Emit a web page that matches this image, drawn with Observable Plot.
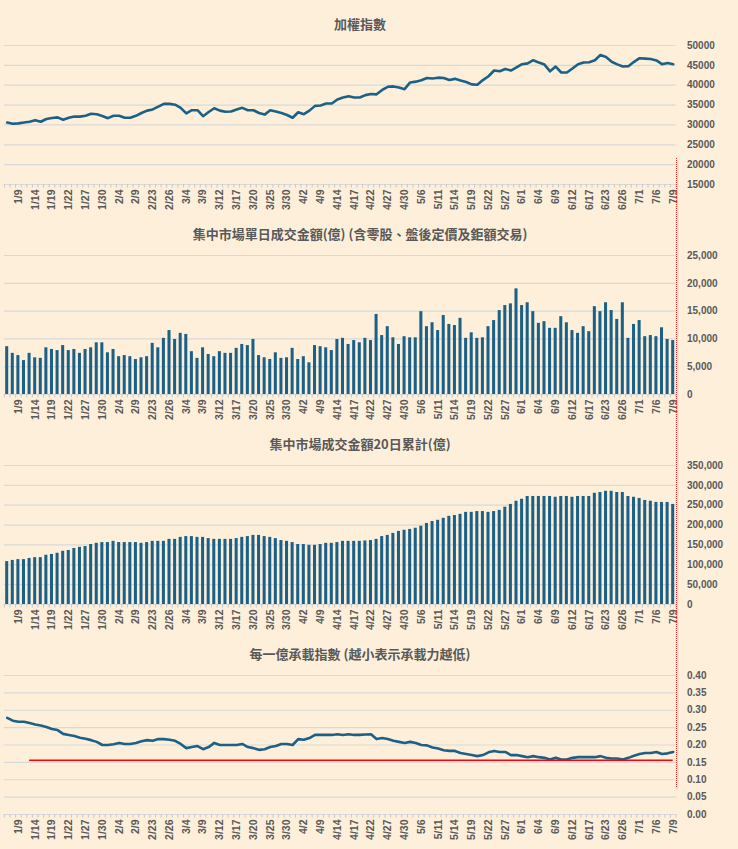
<!DOCTYPE html>
<html><head><meta charset="utf-8">
<script src="https://cdn.jsdelivr.net/npm/d3@7"></script>
<script src="https://cdn.jsdelivr.net/npm/@observablehq/plot@0.6"></script>
<style>
html,body{margin:0;padding:0;background:#fdefd9;}
#wrap{position:relative;width:738px;height:849px;background:#fdefd9;overflow:hidden}
.panel{position:absolute;left:0}
.title{position:absolute;left:0;width:720px;text-align:center;font:bold 13px "Noto Sans CJK TC","Noto Sans CJK SC",sans-serif;color:#595959;line-height:16px;white-space:nowrap}
#vline{position:absolute;left:676px;top:158px;height:629px;border-left:1.5px dotted #ff2a2a}
</style>
</head><body><div id="wrap"></div>
<script>
const dates = ["1/7","1/8","1/9","1/12","1/13","1/14","1/15","1/16","1/19","1/20",
"1/21","1/22","1/23","1/26","1/27","1/28","1/29","1/30","2/2","2/3",
"2/4","2/5","2/6","2/9","2/10","2/11","2/23","2/24","2/25","2/26",
"3/2","3/3","3/4","3/5","3/6","3/9","3/10","3/11","3/12","3/13",
"3/16","3/17","3/18","3/19","3/20","3/23","3/24","3/25","3/26","3/27",
"3/30","3/31","4/1","4/2","4/7","4/8","4/9","4/10","4/13","4/14",
"4/15","4/16","4/17","4/20","4/21","4/22","4/23","4/24","4/27","4/28",
"4/29","4/30","5/4","5/5","5/6","5/7","5/8","5/11","5/12","5/13",
"5/14","5/15","5/18","5/19","5/20","5/21","5/22","5/25","5/26","5/27",
"5/28","5/29","6/1","6/2","6/3","6/4","6/5","6/8","6/9","6/10",
"6/11","6/12","6/15","6/16","6/17","6/18","6/22","6/23","6/24","6/25",
"6/26","6/29","6/30","7/1","7/2","7/3","7/6","7/7","7/8","7/9"];

const taiex = [30600,30300,30400,30600,30800,31200,30800,31500,31750,31900,
31300,31800,32100,32100,32300,32800,32700,32250,31700,32300,
32300,31800,31800,32300,33000,33600,33900,34600,35300,35300,
35100,34300,32900,33700,33700,32200,33250,34200,33600,33300,
33400,33900,34300,33700,33700,33000,32600,33700,33400,33000,
32500,31800,33200,32700,33600,34800,34900,35400,35400,36400,
36900,37200,36900,36900,37500,37800,37700,38800,39600,39700,
39400,39000,40700,40900,41250,41800,41700,41900,41800,41300,
41600,41200,40800,40200,40100,41300,42250,43700,43500,44100,
43700,44500,45300,45500,46300,45700,45200,43500,44700,43200,
43200,44200,45300,45700,45800,46300,47600,47100,45900,45250,
44700,44800,45900,46800,46700,46600,46250,45300,45600,45300];

const volume = [8600,7400,7000,6100,7400,6600,6500,8400,8100,7900,
8800,7900,8100,7400,8100,8400,9300,9300,7500,8100,
6800,7000,6800,6300,6600,6800,9200,8400,10100,11500,
9900,11000,10800,7700,6500,8400,7200,6800,7700,7400,
7400,8300,9000,8800,9900,7000,6600,6300,7500,6500,
6600,8300,6300,6800,5700,8800,8600,8400,7900,9900,
10100,9000,9700,9300,10100,9700,14400,10600,12200,10200,
9000,10400,10200,10200,14900,12200,12900,11500,14200,12600,
12400,13700,10100,11100,10100,10200,12200,13300,15100,16000,
16300,19000,16000,16500,14900,12800,13100,11900,11900,14000,
12900,11500,11000,12200,11300,15800,14900,16500,15100,13500,
16500,10100,12600,13300,10400,10600,10400,12000,9900,9700];

const volume20 = [108000,111000,113000,113000,116000,118000,118000,124000,126000,129000,
134000,136000,141000,144000,146000,151000,154000,156000,156000,159000,
156000,156000,156000,156000,154000,156000,159000,159000,159000,164000,
164000,169000,171000,171000,169000,169000,166000,164000,164000,164000,
164000,166000,169000,171000,174000,174000,171000,169000,166000,161000,
159000,156000,151000,151000,149000,149000,151000,154000,154000,156000,
159000,159000,159000,159000,160000,161000,164000,171000,174000,179000,
184000,187000,189000,192000,197000,204000,209000,212000,217000,222000,
224000,227000,232000,232000,234000,234000,232000,234000,237000,245000,
252000,260000,265000,272000,272000,272000,272000,272000,270000,272000,
272000,270000,272000,272000,272000,280000,282000,285000,285000,282000,
282000,272000,270000,267000,262000,260000,257000,257000,257000,252000];

const loadIndex = [0.278,0.270,0.267,0.267,0.263,0.259,0.256,0.252,0.246,0.243,
0.232,0.229,0.226,0.221,0.218,0.214,0.209,0.200,0.200,0.202,
0.206,0.203,0.203,0.206,0.211,0.214,0.212,0.217,0.217,0.215,
0.212,0.203,0.191,0.194,0.197,0.188,0.194,0.206,0.200,0.200,
0.200,0.200,0.203,0.194,0.191,0.186,0.188,0.194,0.197,0.203,
0.203,0.200,0.217,0.215,0.220,0.229,0.229,0.229,0.229,0.231,
0.229,0.231,0.229,0.229,0.230,0.231,0.217,0.220,0.217,0.212,
0.209,0.206,0.209,0.206,0.200,0.199,0.193,0.190,0.185,0.183,
0.183,0.177,0.174,0.171,0.168,0.171,0.179,0.183,0.180,0.180,
0.171,0.171,0.168,0.165,0.168,0.165,0.163,0.158,0.163,0.158,
0.158,0.163,0.165,0.165,0.165,0.165,0.168,0.163,0.161,0.161,
0.158,0.163,0.169,0.174,0.177,0.177,0.180,0.174,0.176,0.180];

const refLevel = 0.156;      // red reference line in last panel
const refStartDate = "1/13";

const taiexTicks = [15000,20000,25000,30000,35000,40000,45000,50000];
const volumeTicks = [0,5000,10000,15000,20000,25000];
const volume20Ticks = [0,50000,100000,150000,200000,250000,300000,350000];
const loadTicks = [0,0.05,0.10,0.15,0.20,0.25,0.30,0.35,0.40];

const titles = ["加權指數","集中市場單日成交金額(億) (含零股、盤後定價及鉅額交易)","集中市場成交金額20日累計(億)","每一億承載指數 (越小表示承載力越低)"];

const BLUE = "#1b6187";
const GRID = "#d9d9d9";
const TXT = "#595959";
const n = dates.length;
const idx = dates.map((d,i)=>i);
const labelIdx = idx.filter(i => (i-2)%3===0);
const boundaries = d3.range(n+1).map(i=>i-0.5);

const wrap = document.getElementById("wrap");

function panel({top, height, mt, mb, values, kind, domain, ticks, fmt, title, titleY, extra=[]}) {
  const data = values.map((v,i)=>({i, v}));
  const main = kind === "bar"
    ? Plot.rect(data, {x1: d=>d.i-0.27, x2: d=>d.i+0.27, y1: 0, y2: "v", fill: BLUE})
    : Plot.line(data, {x: "i", y: "v", stroke: BLUE, strokeWidth: 2.6, strokeLinejoin: "round", strokeLinecap: "round"});
  const p = Plot.plot({
    width: 738, height,
    marginTop: mt, marginBottom: mb, marginLeft: 3.9, marginRight: 62.5,
    style: {background: "transparent", fontFamily: "'Liberation Sans', Arial, sans-serif", fontSize: "10px", fontWeight: "bold", color: TXT, overflow: "visible"},
    x: {type: "linear", domain: [-0.5, n-0.5], label: null},
    y: {domain, label: null},
    marks: [
      Plot.ruleY(ticks, {stroke: GRID, strokeWidth: 1.2}),
      Plot.axisY({anchor: "right", ticks, tickSize: 0, tickPadding: 11, tickFormat: fmt, fill: TXT, label: null}),
      Plot.axisX({ticks: boundaries, tickSize: 3.5, tickFormat: () => "", stroke: "#c8c8c8", label: null}),
      Plot.axisX({ticks: labelIdx, tickSize: 0, tickPadding: 5, tickRotate: -90, tickFormat: i => dates[i], fill: TXT, fontSize: 10.5, label: null}),
      main,
      ...extra
    ]
  });
  p.classList.add("panel");
  p.style.top = top + "px";
  wrap.appendChild(p);
  const t = document.createElement("div");
  t.className = "title";
  t.style.top = (titleY - 8) + "px";
  t.textContent = title;
  wrap.appendChild(t);
}

const noComma = d3.format("d");
const comma = d3.format(",");
panel({top: 0, height: 215, mt: 45, mb: 31, values: taiex, kind: "line", domain: [15000, 50000], ticks: taiexTicks, fmt: noComma, title: titles[0], titleY: 24});
panel({top: 215, height: 210, mt: 40, mb: 31, values: volume, kind: "bar", domain: [0, 25000], ticks: volumeTicks, fmt: comma, title: titles[1], titleY: 234});
panel({top: 425, height: 210, mt: 40, mb: 31, values: volume20, kind: "bar", domain: [0, 350000], ticks: volume20Ticks, fmt: comma, title: titles[2], titleY: 444});
const refStart = dates.indexOf(refStartDate);
panel({top: 635, height: 214, mt: 40, mb: 35, values: loadIndex, kind: "line", domain: [0, 0.40], ticks: loadTicks, fmt: d3.format(".2f"), title: titles[3], titleY: 654,
  extra: [Plot.ruleY([refLevel], {x1: refStart, x2: n-1, stroke: "#ff0000", strokeWidth: 1.5})]});

const vl = document.createElement("div");
vl.id = "vline";
wrap.appendChild(vl);
</script>
</body></html>
